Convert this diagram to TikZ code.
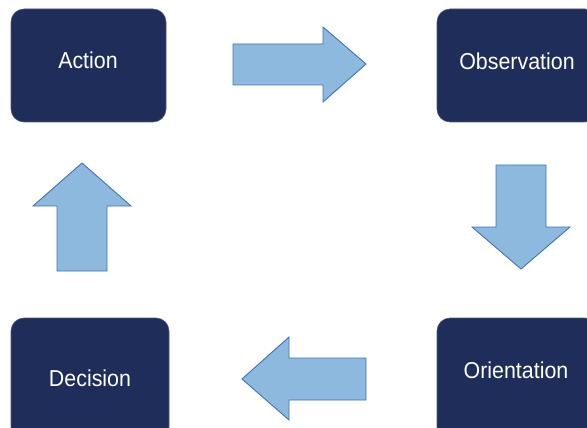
\documentclass[tikz,border=0pt]{standalone}
\usepackage{fontspec}
\setmainfont{Liberation Sans}
\newfontfamily\lblfont[FakeStretch=0.93]{Liberation Sans}
\definecolor{navy}{HTML}{1E2D5A}
\definecolor{arrfill}{HTML}{8DB9DF}
\definecolor{arrline}{HTML}{4170BC}
\begin{document}
\begin{tikzpicture}[x=1pt,y=-1pt,
  box/.style={fill=navy,draw=navy!80!white,line width=0.6pt,rounded corners=13pt},
  lbl/.style={text=white,font=\lblfont\fontsize{23}{23}\selectfont,anchor=base,inner sep=0pt},
  bigarrow/.style={fill=arrfill,draw=arrline,line width=0.9pt,line join=miter}]
\useasboundingbox (0,0) rectangle (587,428);
\clip (0,0) rectangle (587,428);
% boxes
\draw[box] (11,9) rectangle (166,122);
\draw[box] (437,9) rectangle (598,122);
\draw[box] (11,318) rectangle (169,440);
\draw[box] (437,318) rectangle (598,440);
% labels
\node[lbl] (act) at (88,69) {Action};
\node[lbl] (obs) at (517,70) {Observation};
\node[lbl] (dec) at (90,386) {Decision};
\node[lbl] (ori) at (516,378) {Orientation};
% arrows
\draw[bigarrow] (233,44) -- (323,44) -- (323,27) -- (366,64) -- (323,102) -- (323,85) -- (233,85) -- cycle;
\draw[bigarrow] (496,165) -- (546,165) -- (546,227) -- (570,227) -- (521,269) -- (472,227) -- (496,227) -- cycle;
\draw[bigarrow] (366,358) -- (289,358) -- (289,337) -- (242,379) -- (289,420) -- (289,400) -- (366,400) -- cycle;
\draw[bigarrow] (57,271) -- (57,206) -- (33,206) -- (82,163) -- (131,206) -- (107,206) -- (107,271) -- cycle;
\end{tikzpicture}
\end{document}
